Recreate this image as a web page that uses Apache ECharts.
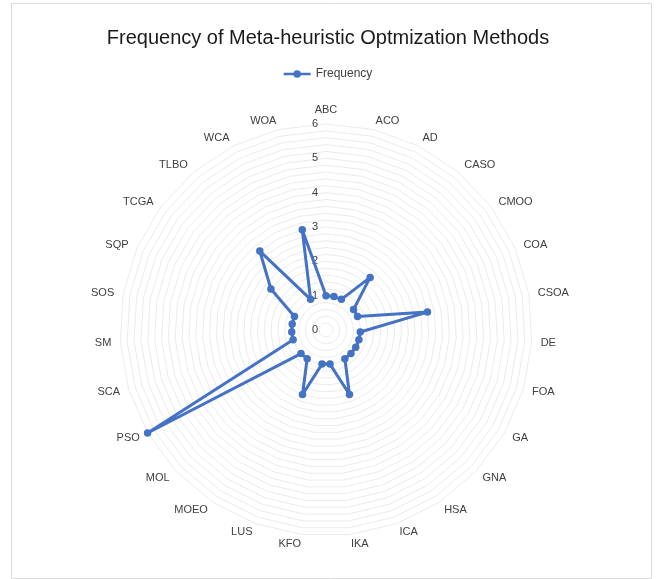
<!DOCTYPE html>
<html>
<head>
<meta charset="utf-8">
<script src="https://cdn.jsdelivr.net/npm/echarts@6/dist/echarts.min.js"></script>
<style>
  html, body { margin: 0; padding: 0; background: #ffffff; }
  #chart { width: 656px; height: 579px; }
</style>
</head>
<body>
<div id="chart"></div>
<script>
// Methods, listed clockwise from the top of the radar
const methods = ['ABC', 'ACO', 'AD', 'CASO', 'CMOO', 'COA', 'CSOA', 'DE', 'FOA', 'GA',
  'GNA', 'HSA', 'ICA', 'IKA', 'KFO', 'LUS', 'MOEO', 'MOL', 'PSO', 'SCA', 'SM', 'SOS',
  'SQP', 'TCGA', 'TLBO', 'WCA', 'WOA'];
// How often each method appears
const frequency = [1, 1, 1, 2, 1, 1, 3, 1, 1, 1, 1, 1, 2, 1, 1, 2, 1, 1, 6, 1, 1, 1, 1, 2, 3, 1, 3];
const axisMin = 0;
const axisMax = 6;
const minorSteps = 5; // gridlines per unit

// ECharts lays radar indicators out counter-clockwise, so keep the first
// one on top and reverse the rest to read clockwise.
const order = [0].concat(methods.map((_, i) => i).slice(1).reverse());

const indicators = order.map((i, k) => {
  const ind = { name: methods[i], min: axisMin, max: axisMax };
  if (k === 0) ind.axisLabel = { show: true };
  return ind;
});
const values = order.map(i => frequency[i]);

const chart = echarts.init(document.getElementById('chart'), null, { renderer: 'canvas' });
const font = '"Liberation Sans", Arial, sans-serif';

chart.setOption({
  animation: false,
  backgroundColor: '#ffffff',
  title: {
    text: 'Frequency of Meta-heuristic Optmization Methods',
    left: 'center',
    top: 23,
    textStyle: { fontFamily: font, fontSize: 20, fontWeight: 'normal', color: '#1a1a1a' }
  },
  legend: {
    top: 63,
    left: 'center',
    itemWidth: 27,
    itemHeight: 10,
    itemGap: 4,
    icon: 'path://M0,3.8 L27,3.8 L27,6.2 L0,6.2 Z M13.5,1.2 A3.8,3.8 0 1 1 13.5,8.8 A3.8,3.8 0 1 1 13.5,1.2 Z',
    textStyle: { fontFamily: font, fontSize: 12, color: '#404040' },
    data: ['Frequency']
  },
  graphic: [{
    type: 'rect',
    shape: { x: 11.5, y: 3.5, width: 640, height: 575 },
    style: { fill: 'none', stroke: '#d9d9d9', lineWidth: 1 },
    silent: true
  }],
  radar: {
    center: [326, 330],
    radius: 206,
    startAngle: 90,
    shape: 'polygon',
    splitNumber: (axisMax - axisMin) * minorSteps,
    indicator: indicators,
    nameGap: 9,
    axisName: { fontFamily: font, fontSize: 11, color: '#404040' },
    axisLine: { show: false },
    axisTick: { show: false },
    axisLabel: {
      show: false,
      fontFamily: font,
      fontSize: 11,
      color: '#404040',
      margin: 8,
      formatter: v => (Math.abs(v - Math.round(v)) < 1e-6 ? String(Math.round(v)) : '')
    },
    splitLine: { lineStyle: { color: '#ebebeb', width: 1 } },
    splitArea: { show: false }
  },
  series: [{
    type: 'radar',
    name: 'Frequency',
    symbol: 'circle',
    symbolSize: 7.5,
    lineStyle: { color: '#4472C4', width: 3 },
    itemStyle: { color: '#4472C4' },
    data: [{ name: 'Frequency', value: values }]
  }]
});
</script>
</body>
</html>
